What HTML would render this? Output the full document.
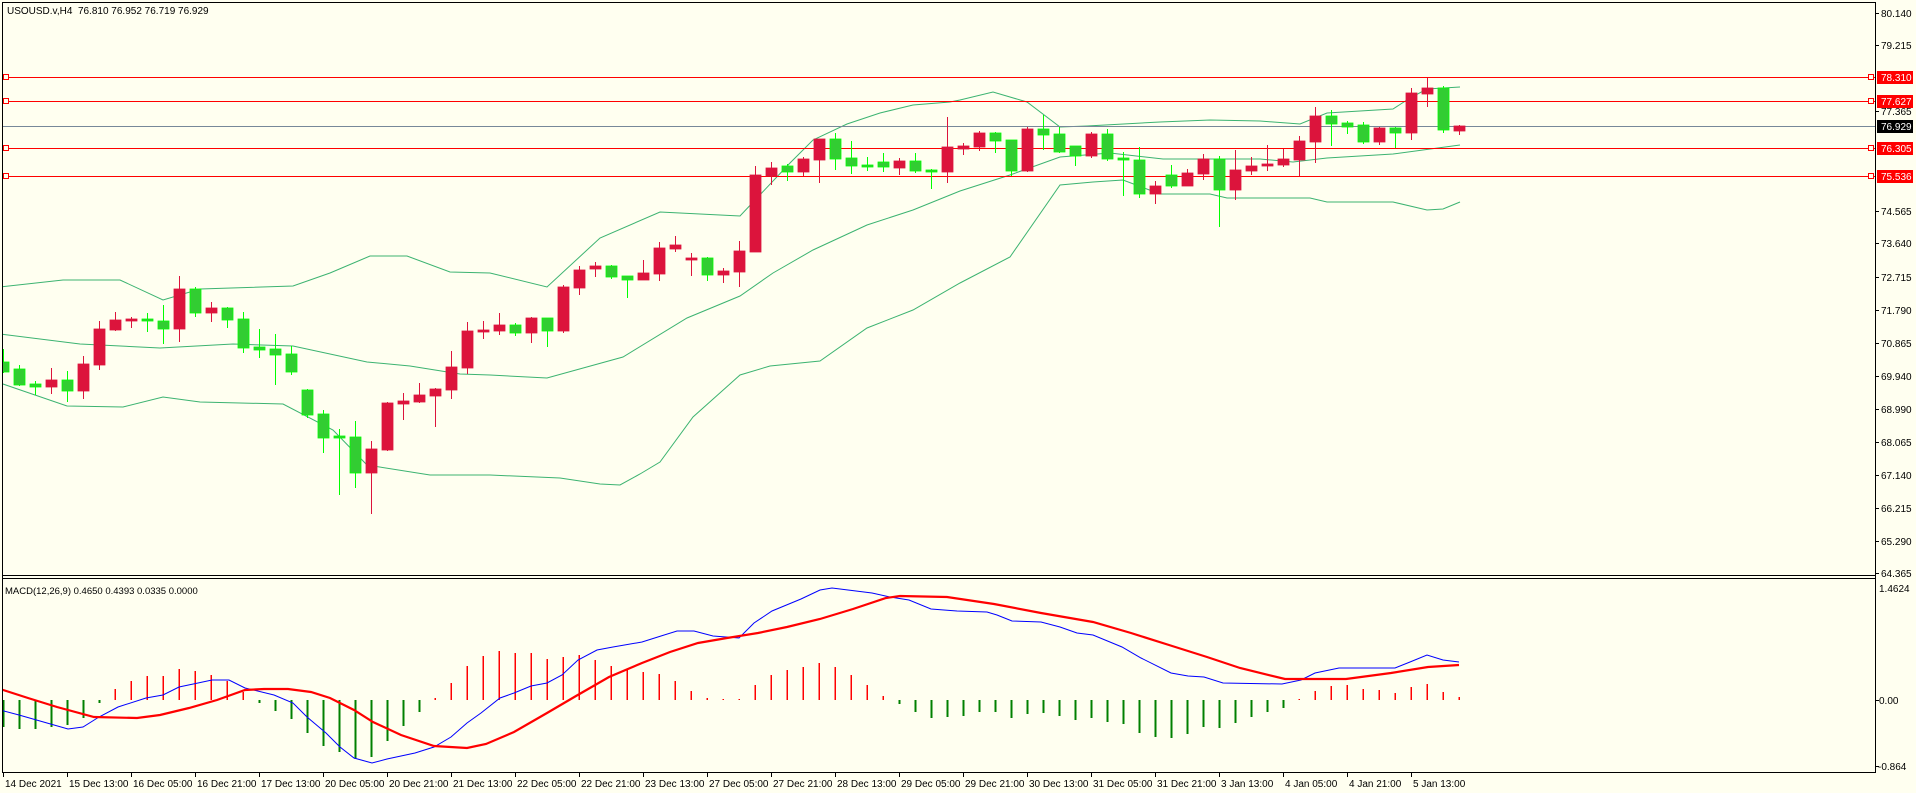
<!DOCTYPE html>
<html><head><meta charset="utf-8"><style>
html,body{margin:0;padding:0;background:#FFFFF0;}
svg{display:block;}
text{font-family:"Liberation Sans",sans-serif;font-size:10px;}
</style></head><body>
<svg id="s" width="1916" height="793" viewBox="0 0 1916 793" xmlns="http://www.w3.org/2000/svg">
<rect width="1916" height="793" fill="#FFFFF0"/>
<defs>
<clipPath id="cm"><rect x="2" y="2" width="1873" height="573"/></clipPath>
<clipPath id="cd"><rect x="2" y="579" width="1873" height="193"/></clipPath>
</defs>
<g id="main" clip-path="url(#cm)">
<polyline fill="none" stroke="#3CB371" stroke-width="1" points="0,287 63,280 120,280 163,300 200,289 293,286 330,273 370,256 407,256 450,272 490,273 547,287 600,238 660,212 720,215 740,216 790,163 813,140 847,124 880,113 913,105 950,102 960,100 993,92 1027,102 1060,127 1087,126 1160,122 1210,120 1260,121 1300,124 1327,113 1393,109 1410,98 1427,89 1460,87"/>
<polyline fill="none" stroke="#3CB371" stroke-width="1" points="0,334 80,344 160,348 233,344 293,346 367,362 410,366 460,374 490,375 547,378 623,357 687,318 740,296 773,273 813,250 867,225 913,210 960,191 1010,175 1060,157 1110,153 1163,159 1260,159 1293,162 1327,158 1393,154 1460,145"/>
<polyline fill="none" stroke="#3CB371" stroke-width="1" points="0,383 67,406 123,407 163,397 200,402 283,404 333,430 367,465 430,475 490,475 560,478 600,484 620,485 640,474 660,462 693,417 740,375 770,366 820,361 867,328 913,310 960,283 1010,257 1060,185 1093,182 1123,180 1160,194 1210,194 1227,198 1310,198 1327,202 1393,202 1427,210 1443,209 1460,202"/>
<line x1="2" y1="126.5" x2="1875" y2="126.5" stroke="#778899"/>
<g stroke="#FF0000" fill="#FFFFF0">
<line x1="2" y1="77.5" x2="1875" y2="77.5"/>
<line x1="2" y1="101.5" x2="1875" y2="101.5"/>
<line x1="2" y1="148.5" x2="1875" y2="148.5"/>
<line x1="2" y1="176.5" x2="1875" y2="176.5"/>
<rect x="3.5" y="74.5" width="5" height="5"/><rect x="3.5" y="98.5" width="5" height="5"/><rect x="3.5" y="145.5" width="5" height="5"/><rect x="3.5" y="173.5" width="5" height="5"/>
<rect x="1868.5" y="74.5" width="5" height="5"/><rect x="1868.5" y="98.5" width="5" height="5"/><rect x="1868.5" y="145.5" width="5" height="5"/><rect x="1868.5" y="173.5" width="5" height="5"/>
</g>
<g id="candles"></g>
</g>
<g clip-path="url(#cd)">
<g id="hist"></g>
<polyline fill="none" stroke="#0000FF" stroke-width="1" points="0,710 19,715 47,723 68,729 83,727 99,717 118,707 146,698 163,695 179,687 198,683 212,680 229,680 245,688 274,695 293,703 307,717 326,733 340,747 354,758 372,763 387,759 415,753 434,747 451,737 467,723 481,713 500,698 514,693 531,686 547,683 562,675 578,660 597,650 613,647 642,642 661,636 677,631 694,631 713,636 739,638 754,623 772,611 801,599 820,590 832,588 848,590 872,593 890,597 909,600 931,609 957,611 987,612 997,615 1012,621 1041,622 1060,627 1077,633 1093,635 1122,647 1141,658 1171,673 1188,676 1204,677 1223,683 1282,684 1301,680 1315,673 1339,668 1395,668 1410,662 1427,655 1443,660 1459,662"/>
<polyline fill="none" stroke="#FF0000" stroke-width="2.2" points="0,689 28,698 57,707 94,717 137,718 160,715 189,708 217,700 245,690 264,689 288,689 311,692 330,698 354,710 373,722 401,735 434,746 467,748 486,744 514,732 547,713 576,696 609,677 642,663 670,652 698,643 727,638 758,633 787,627 820,619 853,609 886,598 900,596 947,597 994,604 1041,613 1093,622 1131,633 1169,645 1207,657 1240,668 1285,679 1346,679 1391,673 1428,667 1459,665"/>
</g>
<g stroke="#000" stroke-width="1" fill="none">
<line x1="2.5" y1="2" x2="2.5" y2="772"/>
<line x1="2" y1="2.5" x2="1876" y2="2.5"/>
<line x1="1875.5" y1="2" x2="1875.5" y2="773"/>
<line x1="2" y1="575.5" x2="1876" y2="575.5"/>
<line x1="2" y1="578.5" x2="1876" y2="578.5"/>
<line x1="2" y1="772.5" x2="1876" y2="772.5"/>
</g>
<g id="ticks" stroke="#000"></g>
<text x="7" y="14" fill="#000">USOUSD.v,H4&#160;&#160;76.810 76.952 76.719 76.929</text>
<text x="5" y="594" fill="#000" style="font-size:9.5px">MACD(12,26,9) 0.4650 0.4393 0.0335 0.0000</text>
<g fill="#000">
<text x="1881" y="17">80.140</text>
<text x="1881" y="49">79.215</text>
<text x="1881" y="115">77.365</text>
<text x="1881" y="215">74.565</text>
<text x="1881" y="247">73.640</text>
<text x="1881" y="281">72.715</text>
<text x="1881" y="314">71.790</text>
<text x="1881" y="347">70.865</text>
<text x="1881" y="380">69.940</text>
<text x="1881" y="413">68.990</text>
<text x="1881" y="446">68.065</text>
<text x="1881" y="479">67.140</text>
<text x="1881" y="512">66.215</text>
<text x="1881" y="545">65.290</text>
<text x="1881" y="577">64.365</text>
<text x="1879" y="592">1.4624</text>
<text x="1879" y="704">0.00</text>
<text x="1878" y="770">-0.864</text>
</g>
<rect x="1877" y="71" width="36" height="13" fill="#FF0000"/>
<rect x="1877" y="95" width="36" height="13" fill="#FF0000"/>
<rect x="1877" y="120" width="36" height="13" fill="#000"/>
<rect x="1877" y="142" width="36" height="13" fill="#FF0000"/>
<rect x="1877" y="170" width="36" height="13" fill="#FF0000"/>
<g fill="#fff">
<text x="1881" y="81">78.310</text>
<text x="1881" y="105">77.627</text>
<text x="1881" y="130">76.929</text>
<text x="1881" y="152">76.305</text>
<text x="1881" y="180">75.536</text>
</g>
<g fill="#000">
<text x="5" y="787">14 Dec 2021</text>
<text x="69" y="787">15 Dec 13:00</text>
<text x="133" y="787">16 Dec 05:00</text>
<text x="197" y="787">16 Dec 21:00</text>
<text x="261" y="787">17 Dec 13:00</text>
<text x="325" y="787">20 Dec 05:00</text>
<text x="389" y="787">20 Dec 21:00</text>
<text x="453" y="787">21 Dec 13:00</text>
<text x="517" y="787">22 Dec 05:00</text>
<text x="581" y="787">22 Dec 21:00</text>
<text x="645" y="787">23 Dec 13:00</text>
<text x="709" y="787">27 Dec 05:00</text>
<text x="773" y="787">27 Dec 21:00</text>
<text x="837" y="787">28 Dec 13:00</text>
<text x="901" y="787">29 Dec 05:00</text>
<text x="965" y="787">29 Dec 21:00</text>
<text x="1029" y="787">30 Dec 13:00</text>
<text x="1093" y="787">31 Dec 05:00</text>
<text x="1157" y="787">31 Dec 21:00</text>
<text x="1221" y="787">3 Jan 13:00</text>
<text x="1285" y="787">4 Jan 05:00</text>
<text x="1349" y="787">4 Jan 21:00</text>
<text x="1413" y="787">5 Jan 13:00</text>
</g>
</svg>
<script>
var NS="http://www.w3.org/2000/svg";
function el(p,n,a){var e=document.createElementNS(NS,n);for(var k in a)e.setAttribute(k,a[k]);p.appendChild(e);return e;}
var C=[["g",362,372,349,373],["g",369,385,365,386],["g",384,387,381,395],["r",380,387,368,394],["g",380,391,371,402],["r",364,391,356,399],["r",329,365,321,370],["r",320,330,312,331],["r",319,321,317,328],["g",319,321,313,332],
["g",321,329,305,344],["r",289,329,276,342],["g",289,313,287,317],["r",308,313,302,322],["g",308,320,307,328],["g",319,348,312,353],["g",347,350,329,358],["g",349,355,334,385],["g",354,372,346,375],["g",390,415,389,418],
["g",414,438,410,453],["g",436,438,429,495],["g",437,473,421,488],["r",449,473,441,514],["r",403,450,402,451],["r",401,404,393,420],["r",395,402,383,403],["r",389,396,388,427],["r",367,390,351,399],["r",331,368,322,374],
["r",330,332,321,339],["r",325,331,313,335],["g",325,333,323,336],["r",318,333,317,343],["g",318,331,318,347],["r",287,331,285,333],["r",270,288,266,295],["r",266,269,262,277],["g",266,277,265,279],["g",276,280,276,298],
["r",273,280,260,280],["r",248,274,242,281],["r",245,249,236,252],["r",258,260,253,276],["g",258,275,257,281],["r",271,275,268,283],["r",251,272,241,287],["r",175,252,166,252],["r",168,176,162,185],["g",166,172,164,181],
["r",159,172,157,176],["r",139,160,139,183],["g",139,159,133,170],["g",158,166,141,174],["g",165,167,157,171],["g",162,167,153,172],["r",161,168,158,175],["g",161,171,153,173],["g",170,172,169,189],["r",147,172,117,183],
["r",146,149,143,155],["r",133,147,131,151],["g",133,141,132,153],["g",140,171,140,176],["r",129,171,127,172],["g",129,135,115,150],["g",134,152,127,153],["g",146,156,146,166],["r",134,156,132,158],["g",134,159,129,161],
["g",158,160,152,196],["g",160,194,147,198],["r",186,194,181,204],["g",175,186,165,188],["r",173,186,169,186],["r",159,174,154,180],["g",159,190,156,227],["r",170,190,150,200],["r",166,171,157,175],["r",164,166,145,171],
["r",159,165,149,167],["r",141,160,136,176],["r",116,142,107,163],["g",116,124,110,146],["g",123,127,121,134],["g",125,142,122,144],["r",128,142,127,145],["g",128,133,127,148],["r",93,133,88,140],["r",88,94,78,107],
["g",88,130,86,133],["r",126,131,125,135]];
var cg=document.getElementById("candles");
C.forEach(function(c,i){var x=3+16*i;var red=c[0]=="r";var wc=red?"#DC143C":"#00FF00";
el(cg,"line",{x1:x+0.5,x2:x+0.5,y1:c[3],y2:c[4],stroke:wc,"stroke-width":1});
var h=Math.max(c[2]-c[1],2);
el(cg,"rect",{x:x-5,y:c[1],width:11,height:h,fill:red?"#DC143C":"#32CD32",stroke:red?"#DC143C":"#00FF00","stroke-width":0.8});});
var H=[27,29,29,27,25,18,3,-11,-19,-24,-24,-31,-29,-25,-19,-8,3,11,19,33,46,52,59,57,41,26,12,-2,-17,-34,-44,-49,-47,-47,-41,-43,-45,-40,-34,-31,-28,-26,-19,-9,-2,-1,-1,-15,-25,-30,-33,-37,-33,-25,-15,-4,4,12,18,17,16,12,12,18,14,13,16,20,18,22,24,33,37,38,34,27,28,23,17,12,8,-1,-9,-14,-15,-11,-10,-7,-13,-16,-8,-3];
var hg=document.getElementById("hist");
H.forEach(function(v,i){var x=3+16*i;var y0=700;
if(v>0)el(hg,"rect",{x:x-0.5,y:y0,width:2,height:v,fill:"#008000"});
else el(hg,"rect",{x:x-0.5,y:y0+v,width:1.5,height:Math.max(-v,1),fill:"#FF0000"});});
var tg=document.getElementById("ticks");
for(var k=0;k<23;k++){var x=3.5+64*k;el(tg,"line",{x1:x,x2:x,y1:772,y2:777});}
[13,45,111,211,243,277,310,343,376,409,442,475,508,541,573,700,766].forEach(function(y){el(tg,"line",{x1:1875,x2:1879,y1:y+0.5,y2:y+0.5});});
</script>
</body></html>
